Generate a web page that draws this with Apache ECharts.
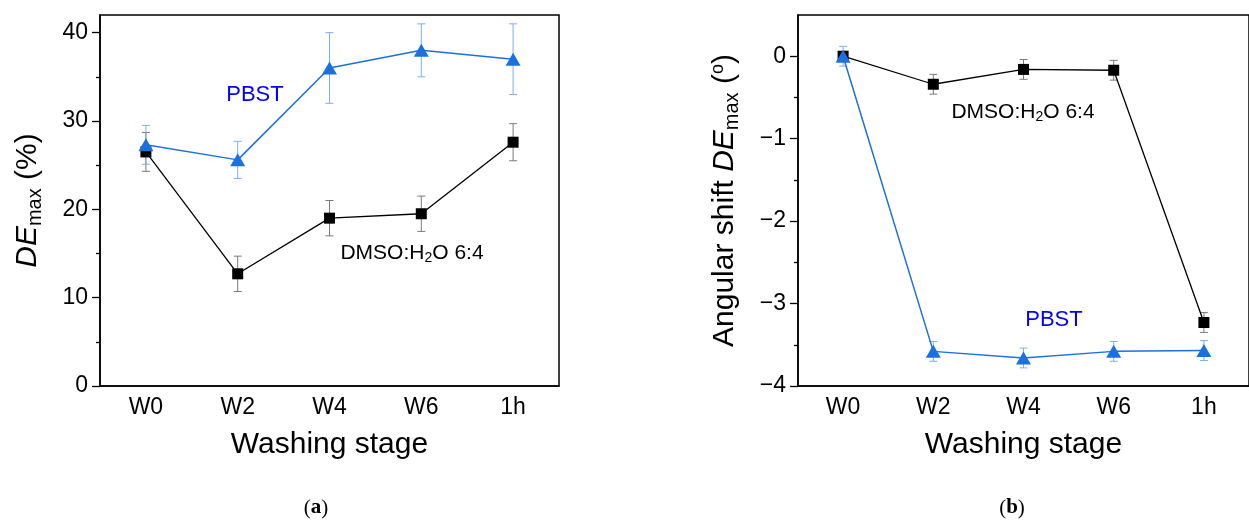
<!DOCTYPE html>
<html>
<head>
<meta charset="utf-8">
<script src="https://cdn.jsdelivr.net/npm/echarts@6/dist/echarts.min.js"></script>
<style>
html, body { margin: 0; padding: 0; background: #fff; }
#chart { width: 1249px; height: 521px; }
</style>
</head>
<body>
<div id="chart"></div>
<script>
var stages = ['W0', 'W2', 'W4', 'W6', '1h'];

// (a) DEmax, %
var pbstDe = [27.3, 25.6, 36.0, 38.0, 37.0];
var pbstDeErr = [2.2, 2.1, 4.0, 3.0, 4.0];
var dmsoDe = [26.5, 12.7, 19.0, 19.5, 27.6];
var dmsoDeErr = [2.2, 2.0, 2.0, 2.0, 2.1];

// (b) angular shift of DEmax, deg
var pbstShift = [0, -3.58, -3.66, -3.58, -3.57];
var pbstShiftErr = [0.12, 0.12, 0.12, 0.12, 0.12];
var dmsoShift = [0, -0.34, -0.16, -0.17, -3.23];
var dmsoShiftErr = [0.05, 0.12, 0.12, 0.12, 0.12];

// tick labels
var deTicks = [0, 10, 20, 30, 40];
var deMinor = [5, 15, 25, 35];
var shiftTicks = [-4, -3, -2, -1, 0];
var shiftMinor = [-3.5, -2.5, -1.5, -0.5];

var font = 'Liberation Sans, Arial, sans-serif';
var blue = '#1c6fde';
var blueErr = '#7eaef0';
var grayErr = '#7a7a7a';

var myChart = echarts.init(document.getElementById('chart'));

function errItems(vals, errs) {
    return vals.map(function(v, i) { return [i, v, errs[i]]; });
}

// vertical error bar with caps
function errorBar(color) {
    return function(params, api) {
        var i = api.value(0), v = api.value(1), e = api.value(2);
        var hi = api.coord([i, v + e]);
        var lo = api.coord([i, v - e]);
        var st = { stroke: color, lineWidth: 1 };
        return {
            type: 'group',
            children: [
                { type: 'line', shape: { x1: hi[0], y1: hi[1], x2: lo[0], y2: lo[1] }, style: st },
                { type: 'line', shape: { x1: hi[0] - 4, y1: hi[1], x2: hi[0] + 4, y2: hi[1] }, style: st },
                { type: 'line', shape: { x1: lo[0] - 4, y1: lo[1], x2: lo[0] + 4, y2: lo[1] }, style: st }
            ]
        };
    };
}

var titleRich = {
    n: { fontSize: 30, fontFamily: font, color: '#000' },
    i: { fontSize: 30, fontFamily: font, color: '#000', fontStyle: 'italic' },
    s: { fontSize: 20, fontFamily: font, color: '#000', padding: [14, 0, 0, 0] },
    o: { fontSize: 18, fontFamily: font, color: '#000', padding: [0, 0, 14, 0] }
};

function catAxes(grid) {
    return [{
        type: 'category', gridIndex: grid, data: stages, position: 'bottom', boundaryGap: true,
        axisLine: { onZero: false, lineStyle: { color: '#000', width: 1.5 } },
        axisTick: { alignWithLabel: true, length: 7, lineStyle: { color: '#000', width: 1.3 } },
        axisLabel: { color: '#000', fontSize: 23, fontFamily: font, margin: 10 },
        name: 'Washing stage', nameLocation: 'middle', nameGap: 44,
        nameTextStyle: { color: '#000', fontSize: 30, fontFamily: font }
    }, {
        type: 'category', gridIndex: grid, data: stages, position: 'bottom', boundaryGap: true,
        axisLine: { show: false, onZero: false },
        axisLabel: { show: false },
        axisTick: { length: 4, lineStyle: { color: '#000', width: 1.3 } }
    }];
}

function valAxes(grid, min, max, ticks, minor, title, gap) {
    return [{
        type: 'value', gridIndex: grid, position: 'left', min: min, max: max,
        splitLine: { show: false },
        axisLine: { show: true, onZero: false, lineStyle: { color: '#000', width: 1.5 } },
        axisTick: { show: true, customValues: ticks, length: 8, lineStyle: { color: '#000', width: 1.3 } },
        axisLabel: {
            customValues: ticks, color: '#000', fontSize: 23, fontFamily: font, margin: 12,
            formatter: function(v) { return String(v).replace('-', '\u2212'); }
        },
        name: title, nameLocation: 'middle', nameGap: gap, nameRotate: 90,
        nameTextStyle: { color: '#000', fontSize: 30, fontFamily: font, rich: titleRich }
    }, {
        type: 'value', gridIndex: grid, position: 'left', min: min, max: max,
        splitLine: { show: false },
        axisLine: { show: false, onZero: false },
        axisLabel: { show: false },
        axisTick: { show: true, customValues: minor, length: 4, lineStyle: { color: '#000', width: 1.3 } }
    }];
}

function panelSeries(xi, yi, pbst, pbstErr, dmso, dmsoErr) {
    return [{
        type: 'custom', xAxisIndex: xi, yAxisIndex: yi, z: 2,
        renderItem: errorBar(grayErr), encode: { x: 0, y: 1 },
        data: errItems(dmso, dmsoErr)
    }, {
        type: 'custom', xAxisIndex: xi, yAxisIndex: yi, z: 2,
        renderItem: errorBar(blueErr), encode: { x: 0, y: 1 },
        data: errItems(pbst, pbstErr)
    }, {
        type: 'line', name: 'DMSO:H2O 6:4', xAxisIndex: xi, yAxisIndex: yi, z: 3,
        data: dmso, symbol: 'rect', symbolSize: 11,
        itemStyle: { color: '#000' }, lineStyle: { color: '#000', width: 1.3 }
    }, {
        type: 'line', name: 'PBST', xAxisIndex: xi, yAxisIndex: yi, z: 4,
        data: pbst, symbol: 'triangle', symbolSize: [15, 13],
        itemStyle: { color: blue }, lineStyle: { color: blue, width: 1.5 }
    }];
}

var dmsoRich = {
    n: { fontSize: 21, fontFamily: font, color: '#000' },
    s: { fontSize: 14, fontFamily: font, color: '#000', padding: [10, 0, 0, 0] }
};
var panelRich = {
    p: { fontSize: 21, fontFamily: 'Liberation Serif, serif', color: '#000' },
    b: { fontSize: 21, fontFamily: 'Liberation Serif, serif', color: '#000', fontWeight: 'bold' }
};

function label(x, y, text, rich, color) {
    return {
        type: 'text',
        style: {
            x: x, y: y, text: text, rich: rich, fill: color || '#000',
            font: '22px ' + font, align: 'center', verticalAlign: 'middle'
        }
    };
}

var option = {
    animation: false,
    backgroundColor: '#fff',
    grid: [
        { left: 100, top: 15, width: 459, height: 371, show: true, borderColor: '#000', borderWidth: 1.5, backgroundColor: 'transparent' },
        { left: 798, top: 15, width: 459, height: 371, show: true, borderColor: '#000', borderWidth: 1.5, backgroundColor: 'transparent' }
    ],
    xAxis: catAxes(0).concat(catAxes(1)),
    yAxis: valAxes(0, 0, 42, deTicks, deMinor, '{i|DE}{s|max}{n| (%)}', 55)
        .concat(valAxes(1, -4, 0.5, shiftTicks, shiftMinor, '{n|Angular shift }{i|DE}{s|max}{n| (}{o|o}{n|)}', 56)),
    series: panelSeries(0, 0, pbstDe, pbstDeErr, dmsoDe, dmsoDeErr)
        .concat(panelSeries(2, 2, pbstShift, pbstShiftErr, dmsoShift, dmsoShiftErr)),
    graphic: [
        label(255, 95, 'PBST', null, '#0000ff'),
        label(412, 253, '{n|DMSO:H}{s|2}{n|O 6:4}', dmsoRich),
        label(1023, 112, '{n|DMSO:H}{s|2}{n|O 6:4}', dmsoRich),
        label(1054, 320, 'PBST', null, '#0000ff'),
        label(316, 508, '{p|(}{b|a}{p|)}', panelRich),
        label(1012, 508, '{p|(}{b|b}{p|)}', panelRich)
    ]
};

myChart.setOption(option);
</script>
</body>
</html>
